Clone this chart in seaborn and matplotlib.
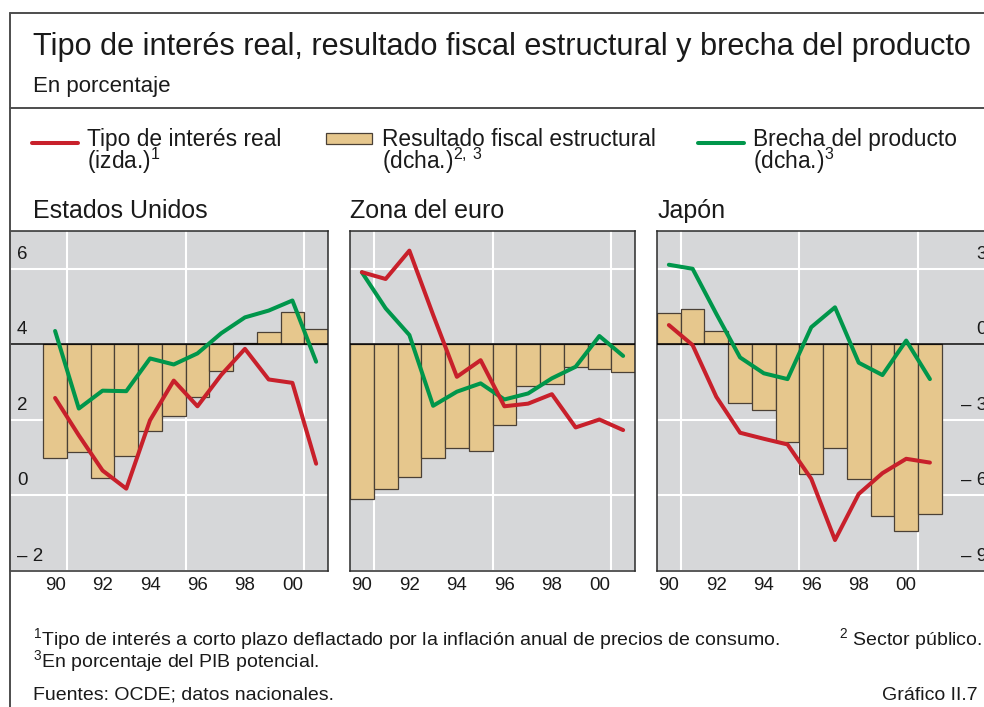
import numpy as np
import pandas as pd
import matplotlib
matplotlib.use("Agg")
import matplotlib.pyplot as plt
import matplotlib.transforms as mtransforms
from matplotlib.lines import Line2D
from matplotlib.patches import Rectangle
import seaborn as sns

# ---- data ----
years = list(range(1990, 2002))

# Estados Unidos
us_rate = [2.58, 1.59, 0.66, 0.18, 1.99, 3.04, 2.36, 3.19, 3.88, 3.07, 2.98, 0.84]
us_gap = [0.53, -2.55, -1.84, -1.86, -0.56, -0.80, -0.36, 0.44, 1.07, 1.34, 1.74, -0.69]
us_fiscal = [-4.50, -4.27, -5.31, -4.42, -3.46, -2.84, -2.08, -1.06, 0.05, 0.48, 1.27, 0.60]

# Zona del euro
eu_rate = [5.91, 5.73, 6.48, 4.78, 3.14, 3.58, 2.36, 2.43, 2.68, 1.80, 2.01, 1.73]
eu_gap = [2.86, 1.43, 0.37, -2.44, -1.88, -1.55, -2.19, -1.95, -1.35, -0.89, 0.33, -0.46]
eu_fiscal = [-6.13, -5.76, -5.27, -4.52, -4.10, -4.23, -3.21, -1.66, -1.59, -0.89, -0.99, -1.11]

# Japón
jp_rate = [4.51, 3.98, 2.61, 1.66, 1.50, 1.35, 0.44, -1.18, 0.04, 0.59, 0.97, 0.87]
jp_gap = [3.16, 3.00, 1.21, -0.52, -1.15, -1.38, 0.68, 1.47, -0.73, -1.22, 0.15, -1.38]
jp_fiscal = [1.23, 1.41, 0.54, -2.31, -2.59, -3.87, -5.13, -4.11, -5.34, -6.82, -7.43, -6.72]

panel_names = ["Estados Unidos", "Zona del euro", "Japón"]
left_ticks = [6, 4, 2, 0, -2]
left_labels = ["6", "4", "2", "0", "– 2"]
right_ticks = [3, 0, -3, -6, -9]
right_labels = ["3", "0", "– 3", "– 6", "– 9"]
year_ticks = [1990, 1992, 1994, 1996, 1998, 2000]
year_labels = ["90", "92", "94", "96", "98", "00"]

RED = "#c8202b"
GREEN = "#00964b"
TAN = "#e6c78d"
BAR_EDGE = "#4a4036"
BG = "#d6d7d9"
DARK = "#2b2b2b"

sns.set_style("white")
plt.rcParams["font.family"] = ["Liberation Sans", "DejaVu Sans"]
plt.rcParams["mathtext.fontset"] = "custom"
plt.rcParams["mathtext.rm"] = "Liberation Sans"

W, H = 984, 707
fig = plt.figure(figsize=(W / 100, H / 100), dpi=100)


def box(x0, y0, x1, y1):
    # pixel box (top-left origin) -> figure fraction rect
    return [x0 / W, 1 - y1 / H, (x1 - x0) / W, (y1 - y0) / H]


def ftext(x, y, s, **kw):
    fig.text(x / W, 1 - y / H, s, va="baseline", color="#1a1a1a", **kw)


def draw_panel(rect, xlim, rate, gap, fiscal, show_left, show_right):
    df = pd.DataFrame({"year": years, "rate": rate, "gap": gap, "fiscal": fiscal})
    ax = fig.add_axes(rect)
    ax2 = ax.twinx()
    ax.set_facecolor(BG)
    ax.set_axisbelow(True)

    # bars + output gap on the right-hand scale
    sns.barplot(data=df, x="year", y="fiscal", native_scale=True, width=1,
                color=TAN, saturation=1, edgecolor=BAR_EDGE, linewidth=0.9,
                errorbar=None, ax=ax, zorder=2)
    sns.lineplot(data=df, x="year", y="gap", color=GREEN, lw=2.9, ax=ax, zorder=4)
    ax.axhline(0, color="black", lw=1.1, zorder=3)
    # real rate on the left-hand scale
    sns.lineplot(data=df, x="year", y="rate", color=RED, lw=2.9, ax=ax2, zorder=5)

    ax.set_xlim(xlim)
    ax.set_ylim(-9, 4.5)
    ax2.set_ylim(-2, 7)
    for a in (ax, ax2):
        a.set_xlabel("")
        a.set_ylabel("")
    ax.yaxis.tick_right()
    ax2.yaxis.tick_left()

    # white grid
    ax.set_yticks(right_ticks)
    ax.yaxis.grid(True, color="white", lw=1.5)
    for yr in (years[0], years[5], years[10]):
        ax.axvline(yr + 0.5, color="white", lw=1.5, zorder=0.6)

    # x ticks: labels at years, short ticks between years, long every 5
    ax.set_xticks(year_ticks)
    ax.set_xticklabels(year_labels)
    ax.set_xticks([y + 0.5 for y in years], minor=True)
    ax.tick_params(axis="x", which="major", length=0, pad=4, labelsize=13.5,
                   labelcolor="#1a1a1a")
    ax.tick_params(axis="x", which="minor", length=10.8, width=1.1,
                   direction="in", color=DARK)
    sec = ax.secondary_xaxis("bottom")
    sec.set_xticks([years[0] + 0.5, years[5] + 0.5, years[10] + 0.5])
    sec.tick_params(length=21.6, width=1.1, direction="in", color=DARK,
                    labelbottom=False)
    sec.spines["bottom"].set_visible(False)

    off = mtransforms.ScaledTranslation(0, 14.5 / 100, fig.dpi_scale_trans)

    # right-hand labels (Japan only)
    ax.tick_params(axis="y", length=0, pad=-5, labelsize=13.5,
                   labelcolor="#1a1a1a", labelright=show_right)
    ax.set_yticklabels(right_labels)
    for lab in ax.get_yticklabels():
        lab.set_ha("right")
        lab.set_va("center")
        lab.set_transform(lab.get_transform() + off)

    # left-hand labels (US only)
    ax2.set_yticks(left_ticks)
    ax2.set_yticklabels(left_labels)
    ax2.tick_params(axis="y", length=0, pad=-5, labelsize=13.5,
                    labelcolor="#1a1a1a", labelleft=show_left, labelright=False)
    for lab in ax2.get_yticklabels():
        lab.set_ha("left")
        lab.set_va("center")
        lab.set_transform(lab.get_transform() + off)

    for s in ax.spines.values():
        s.set_color(DARK)
        s.set_linewidth(1.1)
    for s in ax2.spines.values():
        s.set_visible(False)
    return ax


draw_panel(box(10, 231, 328, 571), (1988.1, 2001.5), us_rate, us_gap, us_fiscal, True, False)
draw_panel(box(350, 231, 635, 571), (1989.5, 2001.5), eu_rate, eu_gap, eu_fiscal, False, False)
draw_panel(box(657, 231, 994, 571), (1989.5, 2003.7), jp_rate, jp_gap, jp_fiscal, False, True)

# frame
frame = dict(color="#4d4d4d", lw=1.4, transform=fig.transFigure)
fig.add_artist(Line2D([10 / W, 1], [1 - 13 / H, 1 - 13 / H], **frame))
fig.add_artist(Line2D([10 / W, 10 / W], [0, 1 - 13 / H], **frame))
fig.add_artist(Line2D([10 / W, 1], [1 - 108 / H, 1 - 108 / H], **frame))

ftext(33, 55, "Tipo de interés real, resultado fiscal estructural y brecha del producto", fontsize=22.1)
ftext(33, 92, "En porcentaje", fontsize=16)

# legend
fig.add_artist(Line2D([32 / W, 78 / W], [1 - 143 / H] * 2, color=RED, lw=2.9,
                      transform=fig.transFigure))
fig.add_artist(Rectangle((326 / W, 1 - 144 / H), 46 / W, 11 / H, facecolor=TAN,
                         edgecolor=BAR_EDGE, lw=0.9, transform=fig.transFigure))
fig.add_artist(Line2D([698 / W, 744 / W], [1 - 143 / H] * 2, color=GREEN, lw=2.9,
                      transform=fig.transFigure))
ftext(87, 146, "Tipo de interés real", fontsize=16.4)
ftext(87, 169, r"(izda.)$^{\mathrm{1}}$", fontsize=16.4)
ftext(382, 146, "Resultado fiscal estructural", fontsize=16.4)
ftext(382, 169, r"(dcha.)$^{\mathrm{2,\,3}}$", fontsize=16.4)
ftext(753, 146, "Brecha del producto", fontsize=16.4)
ftext(753, 169, r"(dcha.)$^{\mathrm{3}}$", fontsize=16.4)

for x, name in zip([33, 350, 658], panel_names):
    ftext(x, 218, name, fontsize=18)

# notes
ftext(33, 646, r"$^{\mathrm{1}}$Tipo de interés a corto plazo deflactado por la inflación anual de precios de consumo.", fontsize=14)
ftext(982, 646, r"$^{\mathrm{2}}$ Sector público.", fontsize=14, ha="right")
ftext(33, 668, r"$^{\mathrm{3}}$En porcentaje del PIB potencial.", fontsize=14)
ftext(33, 700, "Fuentes: OCDE; datos nacionales.", fontsize=14)
ftext(978, 700, "Gráfico II.7", fontsize=14, ha="right")

fig.savefig("out.png", dpi=100)
